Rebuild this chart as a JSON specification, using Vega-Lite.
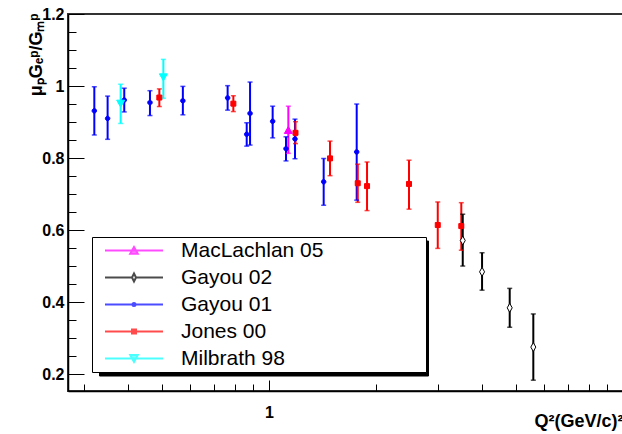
{
  "$schema": "https://vega.github.io/schema/vega-lite/v6.json",
  "autosize": {"type": "none"},
  "padding": {"left": 68, "top": 14, "right": 0, "bottom": 43},
  "width": 555,
  "height": 377,
  "background": "white",
  "config": {
    "view": {"stroke": "#333333", "strokeWidth": 2},
    "axis": {
      "labelFont": "Liberation Sans", "labelFontWeight": "bold", "labelFontSize": 16, "labelColor": "black",
      "titleFont": "Liberation Sans", "titleFontWeight": "bold", "titleColor": "black",
      "tickColor": "black", "tickWidth": 1, "domainColor": "black", "domainWidth": 1.5, "grid": false,
      "labelOverlap": false, "labelFlush": false
    },
    "legend": {
      "labelFont": "Liberation Sans", "labelFontSize": 21, "labelColor": "black", "labelLimit": 600,
      "padding": 0, "clipHeight": 27, "rowPadding": 0, "symbolStrokeWidth": 2, "symbolSize": 3364,
      "symbolOffset": 12, "labelOffset": 17
    }
  },
  "data": {"values": [
    {"s": "Gayou 01", "q2": 0.321, "r": 0.931, "lo": 0.864, "hi": 0.998},
    {"s": "Gayou 01", "q2": 0.350, "r": 0.910, "lo": 0.852, "hi": 0.972},
    {"s": "Gayou 01", "q2": 0.390, "r": 0.961, "lo": 0.928, "hi": 0.994},
    {"s": "Gayou 01", "q2": 0.461, "r": 0.954, "lo": 0.918, "hi": 0.987},
    {"s": "Gayou 01", "q2": 0.571, "r": 0.959, "lo": 0.920, "hi": 0.999},
    {"s": "Gayou 01", "q2": 0.764, "r": 0.967, "lo": 0.933, "hi": 1.001},
    {"s": "Gayou 01", "q2": 0.865, "r": 0.866, "lo": 0.833, "hi": 0.898},
    {"s": "Gayou 01", "q2": 0.884, "r": 0.924, "lo": 0.836, "hi": 1.011},
    {"s": "Gayou 01", "q2": 1.024, "r": 0.902, "lo": 0.856, "hi": 0.944},
    {"s": "Gayou 01", "q2": 1.117, "r": 0.826, "lo": 0.792, "hi": 0.859},
    {"s": "Gayou 01", "q2": 1.184, "r": 0.853, "lo": 0.798, "hi": 0.908},
    {"s": "Gayou 01", "q2": 1.427, "r": 0.734, "lo": 0.669, "hi": 0.799},
    {"s": "Gayou 01", "q2": 1.769, "r": 0.817, "lo": 0.683, "hi": 0.950},
    {"s": "Jones 00", "q2": 0.490, "r": 0.968, "lo": 0.943, "hi": 0.992},
    {"s": "Jones 00", "q2": 0.793, "r": 0.951, "lo": 0.929, "hi": 0.973},
    {"s": "Jones 00", "q2": 1.188, "r": 0.870, "lo": 0.840, "hi": 0.901},
    {"s": "Jones 00", "q2": 1.487, "r": 0.799, "lo": 0.751, "hi": 0.847},
    {"s": "Jones 00", "q2": 1.781, "r": 0.730, "lo": 0.677, "hi": 0.783},
    {"s": "Jones 00", "q2": 1.892, "r": 0.722, "lo": 0.654, "hi": 0.789},
    {"s": "Jones 00", "q2": 2.486, "r": 0.728, "lo": 0.658, "hi": 0.794},
    {"s": "Jones 00", "q2": 2.997, "r": 0.614, "lo": 0.549, "hi": 0.678},
    {"s": "Jones 00", "q2": 3.493, "r": 0.611, "lo": 0.544, "hi": 0.676},
    {"s": "Milbrath 98", "q2": 0.381, "r": 0.951, "lo": 0.896, "hi": 1.005},
    {"s": "Milbrath 98", "q2": 0.503, "r": 1.024, "lo": 0.966, "hi": 1.074},
    {"s": "MacLachlan 05", "q2": 1.134, "r": 0.878, "lo": 0.813, "hi": 0.944},
    {"s": "Gayou 02", "q2": 3.526, "r": 0.571, "lo": 0.500, "hi": 0.644},
    {"s": "Gayou 02", "q2": 3.998, "r": 0.484, "lo": 0.433, "hi": 0.537},
    {"s": "Gayou 02", "q2": 4.786, "r": 0.384, "lo": 0.330, "hi": 0.438},
    {"s": "Gayou 02", "q2": 5.580, "r": 0.275, "lo": 0.183, "hi": 0.367}
  ]},
  "resolve": {"scale": {"shape": "independent", "fill": "independent", "stroke": "independent", "strokeDash": "independent"}},
  "encoding": {
    "x": {"field": "q2", "type": "quantitative",
      "scale": {"type": "log", "domain": [0.2705, 10], "nice": false},
      "axis": {
        "values": [0.3, 0.4, 0.5, 0.6, 0.7, 0.8, 0.9, 1, 2, 3, 4, 5, 6, 7, 8, 9, 10],
        "tickSize": {"condition": {"test": "datum.value == 1 || datum.value == 10", "value": -11}, "value": -7},
        "labelExpr": "datum.value == 1 ? '1' : ''",
        "labelPadding": 24,
        "title": "Q²(GeV/c)²", "titleFontSize": 18, "titleAnchor": "end", "titleAlign": "right",
        "titleX": 555, "titleY": 35, "titleBaseline": "alphabetic"
      }
    },
    "y": {"field": "r", "type": "quantitative",
      "scale": {"domain": [0.153, 1.2], "nice": false, "zero": false},
      "axis": {
        "values": [0.2, 0.25, 0.3, 0.35, 0.4, 0.45, 0.5, 0.55, 0.6, 0.65, 0.7, 0.75, 0.8, 0.85, 0.9, 0.95, 1, 1.05, 1.1, 1.15, 1.2],
        "format": "~g",
        "tickSize": {"condition": {"test": "abs(datum.value*5 - round(datum.value*5)) < 0.001", "value": -16}, "value": -8},
        "labelExpr": "abs(datum.value*5 - round(datum.value*5)) < 0.001 ? datum.label : ''",
        "labelPadding": 20,
        "title": "μₚGₑᵖ/Gₘᵖ", "titleFontSize": 18, "titleAngle": 270, "titleAlign": "right",
        "titleBaseline": "alphabetic", "titleX": -27, "titleY": -1
      }
    }
  },
  "layer": [
    {
      "mark": {"type": "rule", "strokeWidth": 2},
      "encoding": {
        "y2": {"field": "hi"},
        "y": {"field": "lo", "type": "quantitative"},
        "color": {"field": "s", "type": "nominal", "legend": null,
          "scale": {"domain": ["MacLachlan 05", "Gayou 02", "Gayou 01", "Jones 00", "Milbrath 98"],
                    "range": ["#ff00ff", "#000000", "#0000ff", "#ff0000", "#00ffff"]}}
      }
    },
    {
      "mark": {"type": "tick", "orient": "horizontal", "size": 5, "thickness": 1.5},
      "encoding": {
        "y": {"field": "lo", "type": "quantitative"},
        "color": {"field": "s", "type": "nominal", "legend": null}
      }
    },
    {
      "mark": {"type": "tick", "orient": "horizontal", "size": 5, "thickness": 1.5},
      "encoding": {
        "y": {"field": "hi", "type": "quantitative"},
        "color": {"field": "s", "type": "nominal", "legend": null}
      }
    },
    {
      "mark": {"type": "point", "size": 100, "strokeWidth": 1, "opacity": 1},
      "encoding": {
        "shape": {"field": "s", "type": "nominal", "legend": null,
          "scale": {"domain": ["MacLachlan 05", "Gayou 02", "Gayou 01", "Jones 00", "Milbrath 98"],
                    "range": ["M-0.8,0.7L0,-0.7L0.8,0.7Z", "M0,-0.9L0.5,0L0,0.9L-0.5,0Z",
                              "M-0.45,0A0.45,0.45,0,1,1,0.45,0A0.45,0.45,0,1,1,-0.45,0Z",
                              "M-0.5,-0.5H0.5V0.5H-0.5Z", "M-0.8,-0.7L0.8,-0.7L0,0.7Z"]}},
        "fill": {"field": "s", "type": "nominal", "legend": null,
          "scale": {"domain": ["MacLachlan 05", "Gayou 02", "Gayou 01", "Jones 00", "Milbrath 98"],
                    "range": ["#ff00ff", "#ffffff", "#0000ff", "#ff0000", "#00ffff"]}},
        "stroke": {"field": "s", "type": "nominal", "legend": null,
          "scale": {"domain": ["MacLachlan 05", "Gayou 02", "Gayou 01", "Jones 00", "Milbrath 98"],
                    "range": ["#ff00ff", "#000000", "#0000ff", "#ff0000", "#00ffff"]}}
      }
    },
    {
      "transform": [{"filter": "datum.q2 < 0"}],
      "mark": {"type": "point"},
      "encoding": {
        "shape": {"field": "s", "type": "nominal",
          "scale": {"domain": ["MacLachlan 05", "Gayou 02", "Gayou 01", "Jones 00", "Milbrath 98"],
                    "range": ["M-1,0H1M-0.13,0.11L0,-0.12L0.13,0.11Z",
                              "M-1,0H-0.07M0.07,0H1M0,-0.14L0.07,0L0,0.14L-0.07,0Z",
                              "M-1,0H1M-0.052,0A0.052,0.052,0,1,1,0.052,0A0.052,0.052,0,1,1,-0.052,0Z",
                              "M-1,0H1M-0.069,-0.069H0.069V0.069H-0.069Z",
                              "M-1,0H1M-0.13,-0.12H0.13L0,0.12Z"]},
          "legend": {"title": null, "orient": "none", "legendX": 24, "legendY": 223,
                     "fillColor": "white", "strokeColor": "black", "zindex": 2,
                     "labelExpr": "datum.label + '⠀⠀⠀⠀⠀\u00a0\u00a0⠀'"}},
        "fill": {"field": "s", "type": "nominal",
          "scale": {"domain": ["MacLachlan 05", "Gayou 02", "Gayou 01", "Jones 00", "Milbrath 98"],
                    "range": ["#ff00ff", "#ffffff", "#0000ff", "#ff0000", "#00ffff"]},
          "legend": {"title": null, "orient": "none", "legendX": 24, "legendY": 223, "zindex": 2,
                     "labelExpr": "datum.label + '⠀⠀⠀⠀⠀\u00a0\u00a0⠀'"}},
        "stroke": {"field": "s", "type": "nominal",
          "scale": {"domain": ["MacLachlan 05", "Gayou 02", "Gayou 01", "Jones 00", "Milbrath 98"],
                    "range": ["#ff00ff", "#000000", "#0000ff", "#ff0000", "#00ffff"]},
          "legend": {"title": null, "orient": "none", "legendX": 24, "legendY": 223, "zindex": 2,
                     "labelExpr": "datum.label + '⠀⠀⠀⠀⠀\u00a0\u00a0⠀'"}},
        "strokeDash": {"field": "s", "type": "nominal",
          "scale": {"domain": ["Milbrath 98", "Jones 00", "Gayou 01", "Gayou 02", "MacLachlan 05"],
                    "range": [[1, 0], [1, 0], [1, 0], [1, 0], [1, 0]]},
          "legend": {"title": null, "orient": "none", "legendX": 31, "legendY": 226.5,
                     "fillColor": "black", "strokeColor": "black", "zindex": 1,
                     "symbolType": "M-1,0H1", "symbolOpacity": 0, "labelOpacity": 0,
                     "labelExpr": "pad('', 16, '⠀')"}}
      }
    }
  ]
}
